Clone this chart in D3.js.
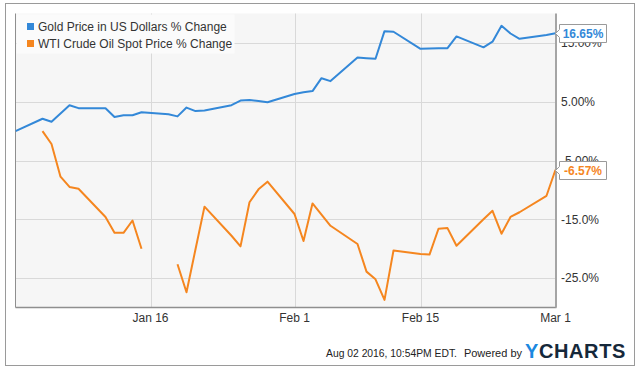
<!DOCTYPE html>
<html>
<head>
<meta charset="utf-8">
<script src="https://cdn.jsdelivr.net/npm/d3@7"></script>
<style>
  body { margin: 0; background: #fff; }
  svg { font-family: "Liberation Sans", Arial, sans-serif; }
</style>
</head>
<body>
<div id="chart"></div>
<script>
// trading days, Jan 1 - Mar 1 2016
const dates = [
  "2016-01-01", "2016-01-04", "2016-01-05", "2016-01-06", "2016-01-07", "2016-01-08",
  "2016-01-11", "2016-01-12", "2016-01-13", "2016-01-14", "2016-01-15",
  "2016-01-18", "2016-01-19", "2016-01-20", "2016-01-21", "2016-01-22",
  "2016-01-25", "2016-01-26", "2016-01-27", "2016-01-28", "2016-01-29",
  "2016-02-01", "2016-02-02", "2016-02-03", "2016-02-04", "2016-02-05",
  "2016-02-08", "2016-02-09", "2016-02-10", "2016-02-11", "2016-02-12",
  "2016-02-15", "2016-02-16", "2016-02-17", "2016-02-18", "2016-02-19",
  "2016-02-22", "2016-02-23", "2016-02-24", "2016-02-25", "2016-02-26",
  "2016-02-29", "2016-03-01"
];

const goldChange = [
  0, 2.1, 1.6, 3.0, 4.4, 3.9,
  3.9, 2.4, 2.7, 2.7, 3.2,
  2.85, 2.5, 4.0, 3.4, 3.5,
  4.4, 5.2, 5.3, 5.1, 4.9,
  6.3, 6.6, 6.8, 9.0, 8.5,
  12.5, 12.4, 12.3, 17.0, 16.9,
  14.0, 14.05, 14.1, 14.1, 16.1,
  14.25, 15.2, 17.9, 16.6, 15.7,
  16.35, 16.65
];

const oilChange = [
  null, 0, -2.2, -7.75, -9.5, -9.8,
  -14.6, -17.3, -17.3, -15.2, -20.0,
  null, -22.65, -27.4, -20.1, -12.85,
  -17.8, -19.6, -12.1, -9.9, -8.6,
  -14.1, -18.7, -12.3, -14.2, -16.1,
  -19.2, -23.9, -25.2, -28.7, -20.3,
  -20.9, -21.0, -16.6, -16.5, -19.5,
  -15.0, -13.55, -17.45, -14.6, -13.8,
  -11.0, -6.57
];

const seriesNames = ["Gold Price in US Dollars % Change", "WTI Crude Oil Spot Price % Change"];
const seriesColors = ["#3388d8", "#f5861f"];
const yTicks = [15, 5, -5, -15, -25];
const yTickLabels = ["15.00%", "5.00%", "-5.00%", "-15.0%", "-25.0%"];
const xTicks = ["2016-01-16", "2016-02-01", "2016-02-15", "2016-03-01"];

const width = 640, height = 371;
const plot = { left: 15.5, right: 555.5, top: 13.5, bottom: 307.5 };
const parse = d3.timeParse("%Y-%m-%d");

const svg = d3.select("#chart").append("svg")
  .attr("width", width)
  .attr("height", height);

// outer frame
svg.append("rect")
  .attr("x", 5.5).attr("y", 3.5)
  .attr("width", 629).attr("height", 362)
  .attr("fill", "#fff")
  .attr("stroke", "#9a9a9a");

const x = d3.scaleTime()
  .domain([parse("2016-01-01"), parse("2016-03-01")])
  .range([plot.left, plot.right]);

const y = d3.scaleLinear()
  .domain([-30, 20])
  .range([plot.bottom, plot.top]);

svg.append("rect")
  .attr("x", plot.left).attr("y", plot.top)
  .attr("width", plot.right - plot.left).attr("height", plot.bottom - plot.top)
  .attr("fill", "#f6f6f6");

// grid
svg.append("g").selectAll("line")
  .data(yTicks)
  .enter().append("line")
  .attr("x1", plot.left).attr("x2", plot.right)
  .attr("y1", d => Math.round(y(d)) + 0.5).attr("y2", d => Math.round(y(d)) + 0.5)
  .attr("stroke", "#d9d9d9");

svg.append("g").selectAll("line")
  .data(xTicks.slice(0, 3))
  .enter().append("line")
  .attr("x1", d => Math.round(x(parse(d))) + 0.5).attr("x2", d => Math.round(x(parse(d))) + 0.5)
  .attr("y1", plot.top).attr("y2", plot.bottom)
  .attr("stroke", "#d9d9d9");

// legend backdrop
svg.append("rect")
  .attr("x", plot.left + 1).attr("y", plot.top + 1)
  .attr("width", 218).attr("height", 39)
  .attr("fill", "#fbfbfb");

// plot borders
svg.append("line")
  .attr("x1", plot.left).attr("x2", plot.left)
  .attr("y1", plot.top).attr("y2", plot.bottom)
  .attr("stroke", "#8f8f8f");
svg.append("line")
  .attr("x1", plot.left).attr("x2", plot.right + 1)
  .attr("y1", plot.bottom).attr("y2", plot.bottom)
  .attr("stroke", "#8f8f8f").attr("stroke-width", 1.5);
svg.append("line")
  .attr("x1", plot.right + 0.5).attr("x2", plot.right + 0.5)
  .attr("y1", plot.top).attr("y2", plot.bottom)
  .attr("stroke", "#a5a5a5").attr("stroke-width", 2);

// lines
svg.append("clipPath").attr("id", "clip")
  .append("rect")
  .attr("x", plot.left).attr("y", plot.top)
  .attr("width", plot.right - plot.left).attr("height", plot.bottom - plot.top);

const line = d3.line()
  .defined(d => d.v != null)
  .x(d => x(d.date))
  .y(d => y(d.v));

[goldChange, oilChange].forEach((vals, i) => {
  const pts = dates.map((d, j) => ({ date: parse(d), v: vals[j] }));
  svg.append("path")
    .datum(pts)
    .attr("clip-path", "url(#clip)")
    .attr("fill", "none")
    .attr("stroke", seriesColors[i])
    .attr("stroke-width", 2)
    .attr("stroke-linejoin", "round")
    .attr("d", line);
});

// y axis labels
svg.append("g").selectAll("text")
  .data(yTicks)
  .enter().append("text")
  .attr("x", 561)
  .attr("y", d => y(d))
  .attr("dy", "0.36em")
  .attr("font-size", 12)
  .attr("fill", "#333")
  .text((d, i) => yTickLabels[i]);

// x axis labels
svg.append("g").selectAll("text")
  .data(xTicks)
  .enter().append("text")
  .attr("x", d => x(parse(d)))
  .attr("y", 322)
  .attr("text-anchor", "middle")
  .attr("font-size", 12)
  .attr("fill", "#333")
  .text(d => d3.timeFormat("%b %-d")(parse(d)));

// last value flags (drawn over the tick labels, like the original)
[goldChange, oilChange].forEach((vals, i) => {
  const last = vals[vals.length - 1];
  const cy = Math.round(y(last)) + 0.5;
  const g = svg.append("g");
  const bx = 559.5, bw = 47, bh = 18;
  g.append("path")
    .attr("d", `M${bx},${cy - bh / 2} H${bx + bw} V${cy + bh / 2} H${bx} V${cy + 4} L${bx - 4},${cy} L${bx},${cy - 4} Z`)
    .attr("fill", "#fff")
    .attr("stroke", "#9a9a9a");
  g.append("text")
    .attr("x", bx + bw / 2)
    .attr("y", cy)
    .attr("dy", "0.36em")
    .attr("text-anchor", "middle")
    .attr("font-size", 12)
    .attr("font-weight", "bold")
    .attr("fill", seriesColors[i])
    .text(last.toFixed(2) + "%");
});

// legend
const legend = svg.append("g").selectAll("g")
  .data(seriesNames)
  .enter().append("g")
  .attr("transform", (d, i) => `translate(27,${23 + i * 17})`);
legend.append("rect")
  .attr("width", 7).attr("height", 7)
  .attr("fill", (d, i) => seriesColors[i]);
legend.append("text")
  .attr("x", 11).attr("y", 8)
  .attr("font-size", 12)
  .attr("fill", "#333")
  .text(d => d);

// footer
svg.append("text")
  .attr("x", 326).attr("y", 357)
  .attr("font-size", 11).attr("fill", "#222")
  .attr("textLength", 131).attr("lengthAdjust", "spacingAndGlyphs")
  .text("Aug 02 2016, 10:54PM EDT.");
svg.append("text")
  .attr("x", 522).attr("y", 357)
  .attr("text-anchor", "end")
  .attr("font-size", 11).attr("fill", "#222")
  .text("Powered by");
const logo = svg.append("text")
  .attr("x", 525).attr("y", 357.5)
  .attr("font-size", 20).attr("font-weight", "bold")
  .attr("letter-spacing", 0.6);
logo.append("tspan").attr("fill", "#1b88e0").text("Y");
logo.append("tspan").attr("fill", "#16283a").text("CHARTS");
</script>
</body>
</html>
